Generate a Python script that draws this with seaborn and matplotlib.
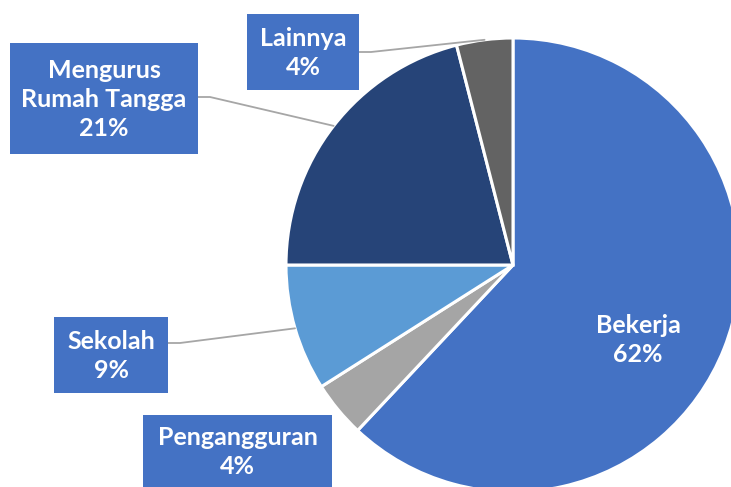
import numpy as np
import matplotlib
matplotlib.use("Agg")
import matplotlib.pyplot as plt
import matplotlib.patches as mpatches
import seaborn as sns

# Data
labels = ["Bekerja", "Pengangguran", "Sekolah", "Mengurus\nRumah Tangga", "Lainnya"]
values = [62, 4, 9, 21, 4]
colors = ["#4472C4", "#A5A5A5", "#5B9BD5", "#264478", "#636363"]

sns.set_theme(style="white")
plt.rcParams["font.family"] = ["Lato", "DejaVu Sans"]

W, H = 731, 487
R = 227.0          # pie radius in pixels
CX, CY = 513, 265  # pie centre in pixels (from top-left)
FS = 18

fig = plt.figure(figsize=(W / 100, H / 100), dpi=100)
ax = fig.add_axes([0, 0, 1, 1])
ax.set_aspect("equal")
ax.axis("off")


def px(x, y):
    # pixel coords (top-left origin) -> data coords
    return (x - CX) / R, (CY - y) / R


wedges, _ = ax.pie(values, colors=colors, startangle=90, counterclock=False,
                   radius=1.0, center=(0, 0),
                   wedgeprops=dict(edgecolor="white", linewidth=2.2))
ax.set_xlim(-CX / R, (W - CX) / R)
ax.set_ylim(-(H - CY) / R, CY / R)

pcts = [round(v / sum(values) * 100) for v in values]
texts = [f"{l}\n{p}%" for l, p in zip(labels, pcts)]

# label boxes: (left, top, right, bottom) in pixels, None = no box
boxes = [None, (143, 415, 332, 487), (54, 317, 168, 393),
         (10, 43, 198, 154), (247, 14, 359, 90)]
# y pixel where leader line leaves the box (None = no leader)
leaders = [None, None, 343, 97, 52]

for i, w in enumerate(wedges):
    if boxes[i] is None:
        tx, ty = px(638, 340)
        ax.text(tx, ty, texts[i], ha="center", va="center", color="white",
                fontsize=FS, fontweight="bold", linespacing=1.3)
        continue
    l, t, r, b = boxes[i]
    x0, y0 = px(l, b)
    x1, y1 = px(r, t)
    ax.add_patch(mpatches.Rectangle((x0, y0), x1 - x0, y1 - y0,
                                    facecolor="#4472C4", edgecolor="none", zorder=3))
    tx, ty = px((l + r) / 2, (t + b) / 2 + 1)
    ax.text(tx, ty, texts[i], ha="center", va="center", color="white",
            fontsize=FS, fontweight="bold", linespacing=1.3, zorder=4)
    if leaders[i] is not None:
        mid = np.deg2rad((w.theta1 + w.theta2) / 2)
        ex, ey = np.cos(mid), np.sin(mid)
        sx, sy = px(r, leaders[i])
        kx, ky = px(r + 12, leaders[i])
        ax.plot([sx, kx, ex], [sy, ky, ey], color="#A6A6A6", lw=1.3, zorder=2)

fig.savefig("out.png", dpi=100)
